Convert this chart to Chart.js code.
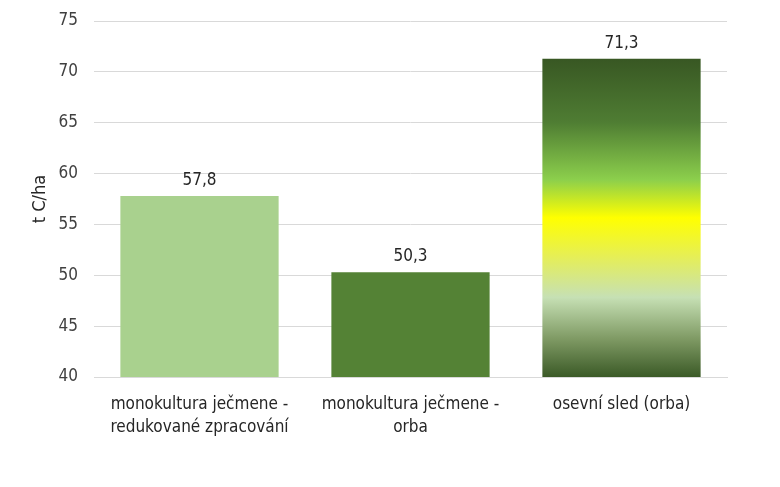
<!DOCTYPE html>
<html>
<head>
<meta charset="utf-8" />
<script src="https://cdn.jsdelivr.net/npm/chart.js@4.4.0/dist/chart.umd.min.js"></script>
<style>
  body{margin:0;background:#fff;}
  #wrap{width:780px;height:487px;}
</style>
</head>
<body>
<div id="wrap"><canvas id="c" width="780" height="487"></canvas></div>
<script>
const categories = [
  ['monokultura ječmene -', 'redukované zpracování'],
  ['monokultura ječmene -', 'orba'],
  'osevní sled (orba)'
];
const values = [57.8, 50.3, 71.3];
const barColors = ['#a9d18e', '#548235', null];
const yTitle = 't C/ha';

const FONT = '"DejaVu Sans Condensed", Lato, sans-serif';

// gradient for the crop rotation bar
function rotationFill(ctx){
  const chart = ctx.chart;
  const area = chart.chartArea;
  if(!area) return '#548235';
  const y = chart.scales.y;
  const top = y.getPixelForValue(values[2]);
  const bot = y.getPixelForValue(y.min);
  const g = chart.ctx.createLinearGradient(0, top, 0, bot);
  g.addColorStop(0.00, '#385723');
  g.addColorStop(0.20, '#4f7d33');
  g.addColorStop(0.38, '#8ccf4c');
  g.addColorStop(0.50, '#ffff00');
  g.addColorStop(0.62, '#e6ef55');
  g.addColorStop(0.75, '#c6e0b4');
  g.addColorStop(0.88, '#7f9a64');
  g.addColorStop(1.00, '#3b5a27');
  return g;
}

const valueLabels = {
  id:'valueLabels',
  afterDatasetsDraw(chart){
    const c = chart.ctx;
    const meta = chart.getDatasetMeta(0);
    c.save();
    c.font = '17px ' + FONT;
    c.fillStyle = '#262626';
    c.textAlign = 'center';
    c.textBaseline = 'bottom';
    meta.data.forEach((bar, i) => {
      c.fillText(values[i].toFixed(1).replace('.', ','), bar.x, bar.y - 7);
    });
    c.restore();
  }
};

new Chart(document.getElementById('c'), {
  type:'bar',
  data:{
    labels:categories,
    datasets:[{
      data:values,
      backgroundColor:(ctx) => ctx.dataIndex === 2 ? rotationFill(ctx) : barColors[ctx.dataIndex],
      categoryPercentage:0.75,
      barPercentage:1.0,
      borderWidth:0
    }]
  },
  options:{
    responsive:false,
    animation:false,
    layout:{ padding:{ top:21, right:53, left:30, bottom:0 } },
    plugins:{ legend:{ display:false }, tooltip:{ enabled:false } },
    scales:{
      x:{
        grid:{ display:false, drawTicks:false },
        border:{ color:'#d9d9d9', width:1 },
        ticks:{ color:'#262626', font:{ family:FONT, size:17, lineHeight:1.3 }, padding:17, maxRotation:0, autoSkip:false },
        afterFit(s){ s.height = 110; s.paddingLeft = 0; s.paddingRight = 0; }
      },
      y:{
        min:40, max:75,
        ticks:{ stepSize:5, color:'#404040', font:{ family:FONT, size:17 }, padding:16 },
        grid:{ color:'#d9d9d9', drawTicks:false },
        border:{ display:false },
        title:{ display:true, text:yTitle, color:'#262626', font:{ family:FONT, size:18 }, padding:{ top:0, bottom:0 } },
        afterFit(s){ s.width = 64; s.paddingTop = 0; s.paddingBottom = 0; }
      }
    }
  },
  plugins:[valueLabels]
});
</script>
</body>
</html>
